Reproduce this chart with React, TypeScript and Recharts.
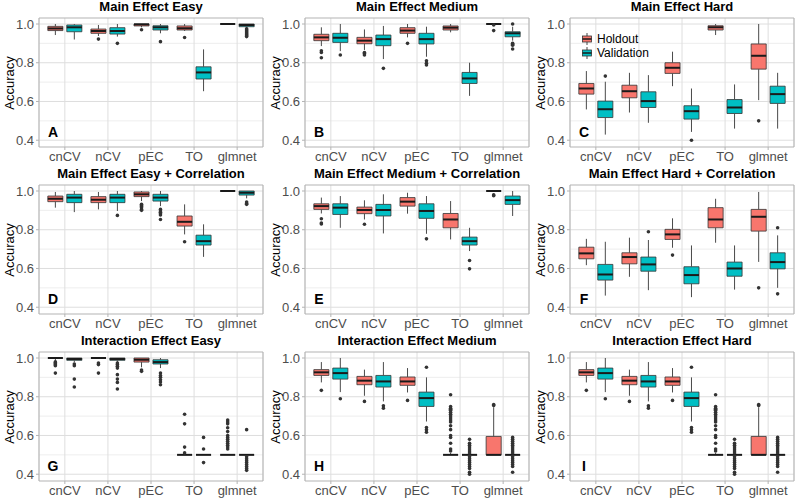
import React from 'react';
import {
  ComposedChart,
  XAxis,
  YAxis,
  CartesianGrid,
  ReferenceArea,
  ReferenceLine,
  Scatter,
} from 'recharts';

// ---------- data ----------
const methods = ['cnCV', 'nCV', 'pEC', 'TO', 'glmnet'];
const groupNames = ['Holdout', 'Validation'];
const groupColors = ['#F8766D', '#00BFC4'];
const yTicks = [0.4, 0.6, 0.8, 1.0];
const yMinor = [0.5, 0.7, 0.9];

// each stat row: [lower whisker, Q1, median, Q3, upper whisker], one row per method
// Main Effect Easy
const mainEasyHold = [
  [0.943, 0.966, 0.977, 0.988, 1.0],
  [0.938, 0.952, 0.964, 0.974, 0.995],
  [0.983, 0.99, 0.998, 1.0, 1.0],
  [0.964, 0.969, 0.978, 0.99, 1.0],
  [1.0, 1.0, 1.0, 1.0, 1.0],
];
const mainEasyHoldOut = [[], [0.922], [0.97], [0.93], []];
const mainEasyVal = [
  [0.92, 0.96, 0.983, 0.995, 1.0],
  [0.935, 0.948, 0.964, 0.981, 1.0],
  [0.952, 0.969, 0.983, 0.991, 1.0],
  [0.653, 0.716, 0.75, 0.779, 0.869],
  [0.978, 0.986, 0.995, 1.0, 1.0],
];
const mainEasyValOut = [[], [0.9], [0.909], [], [0.975, 0.97, 0.965, 0.96, 0.955, 0.95, 0.945, 0.94, 0.935]];

// Main Effect Medium
const mainMedHold = [
  [0.886, 0.914, 0.931, 0.947, 0.983],
  [0.866, 0.898, 0.914, 0.931, 0.972],
  [0.931, 0.952, 0.966, 0.981, 1.0],
  [0.957, 0.969, 0.981, 0.99, 1.0],
  [1.0, 1.0, 1.0, 1.0, 1.0],
];
const mainMedHoldOut = [[0.862, 0.853, 0.826], [0.853, 0.848, 0.84], [0.9], [], [0.995, 0.966]];
const mainMedVal = [
  [0.86, 0.905, 0.929, 0.952, 1.0],
  [0.819, 0.888, 0.922, 0.943, 0.99],
  [0.831, 0.897, 0.922, 0.952, 0.986],
  [0.629, 0.693, 0.719, 0.75, 0.8],
  [0.914, 0.934, 0.952, 0.96, 0.986],
];
const mainMedValOut = [[0.84], [0.771], [0.81, 0.797, 0.788], [], [1.0, 0.9, 0.895, 0.89, 0.871]];

// Main Effect Hard
const mainHardHold = [
  [0.559, 0.638, 0.667, 0.693, 0.757],
  [0.543, 0.619, 0.653, 0.684, 0.748],
  [0.679, 0.745, 0.774, 0.8, 0.857],
  [0.943, 0.969, 0.983, 0.991, 1.0],
  [0.607, 0.767, 0.836, 0.897, 1.0],
];
const mainHardHoldOut = [[], [], [], [], [0.5]];
const mainHardVal = [
  [0.429, 0.517, 0.56, 0.602, 0.702],
  [0.49, 0.569, 0.602, 0.65, 0.736],
  [0.443, 0.509, 0.55, 0.578, 0.667],
  [0.46, 0.538, 0.569, 0.61, 0.688],
  [0.46, 0.59, 0.638, 0.679, 0.748],
];
const mainHardValOut = [[0.731], [], [0.4], [], []];

// Main Effect Easy + Correlation
const corEasyHold = [
  [0.914, 0.945, 0.96, 0.974, 0.995],
  [0.905, 0.94, 0.955, 0.971, 0.995],
  [0.948, 0.971, 0.983, 0.995, 1.0],
  [0.776, 0.819, 0.841, 0.871, 0.931],
  [1.0, 1.0, 1.0, 1.0, 1.0],
];
const corEasyHoldOut = [[], [], [0.931, 0.925, 0.92, 0.914, 0.905, 0.9], [0.738], []];
const corEasyVal = [
  [0.891, 0.94, 0.966, 0.983, 1.0],
  [0.897, 0.94, 0.966, 0.983, 1.0],
  [0.922, 0.948, 0.966, 0.983, 1.0],
  [0.66, 0.721, 0.741, 0.772, 0.828],
  [0.962, 0.979, 0.991, 1.0, 1.0],
];
const corEasyValOut = [[], [0.874], [0.905, 0.897, 0.89, 0.883, 0.876, 0.853], [], [0.943, 0.935, 0.931]];

// Main Effect Medium + Correlation
const corMedHold = [
  [0.884, 0.905, 0.922, 0.934, 0.966],
  [0.853, 0.883, 0.902, 0.917, 0.952],
  [0.883, 0.922, 0.945, 0.966, 0.991],
  [0.75, 0.81, 0.853, 0.884, 0.948],
  [0.995, 1.0, 1.0, 1.0, 1.0],
];
const corMedHoldOut = [[0.857, 0.835, 0.83], [0.828], [], [], [0.98, 0.976]];
const corMedVal = [
  [0.81, 0.879, 0.914, 0.934, 0.974],
  [0.781, 0.871, 0.902, 0.931, 0.983],
  [0.779, 0.859, 0.897, 0.934, 0.974],
  [0.69, 0.721, 0.741, 0.762, 0.81],
  [0.871, 0.931, 0.953, 0.974, 1.0],
];
const corMedValOut = [[], [], [0.753], [0.641, 0.598], []];

// Main Effect Hard + Correlation
const corHardHold = [
  [0.617, 0.65, 0.678, 0.71, 0.753],
  [0.557, 0.624, 0.659, 0.681, 0.759],
  [0.707, 0.75, 0.776, 0.802, 0.859],
  [0.733, 0.81, 0.853, 0.914, 0.96],
  [0.634, 0.793, 0.867, 0.905, 0.995],
];
const corHardHoldOut = [[], [], [0.669], [], [0.5]];
const corHardVal = [
  [0.46, 0.54, 0.569, 0.621, 0.738],
  [0.488, 0.586, 0.621, 0.659, 0.747],
  [0.452, 0.521, 0.566, 0.609, 0.719],
  [0.491, 0.56, 0.6, 0.633, 0.719],
  [0.5, 0.598, 0.633, 0.681, 0.771],
];
const corHardValOut = [[], [0.79], [], [], [0.81, 0.469]];

// Interaction Effect Easy
const intEasyHold = [
  [0.985, 1.0, 1.0, 1.0, 1.0],
  [1.0, 1.0, 1.0, 1.0, 1.0],
  [0.952, 0.979, 0.991, 1.0, 1.0],
  [0.5, 0.5, 0.5, 0.5, 0.5],
  [0.5, 0.5, 0.5, 0.5, 0.5],
];
const intEasyHoldOut = [
  [0.98, 0.975, 0.97, 0.965, 0.96, 0.922],
  [0.974, 0.966, 0.922],
  [0.938, 0.931],
  [0.71, 0.66, 0.54, 0.51],
  [0.68, 0.67, 0.66, 0.64, 0.62, 0.6, 0.59, 0.58, 0.57, 0.56, 0.55, 0.54, 0.53],
];
const intEasyVal = [
  [0.978, 0.988, 0.995, 1.0, 1.0],
  [0.978, 0.988, 0.995, 1.0, 1.0],
  [0.948, 0.969, 0.979, 0.991, 1.0],
  [0.5, 0.5, 0.5, 0.5, 0.5],
  [0.5, 0.5, 0.5, 0.5, 0.5],
];
const intEasyValOut = [
  [0.969, 0.96, 0.891, 0.85],
  [0.974, 0.966, 0.957, 0.948, 0.914, 0.891, 0.874, 0.84],
  [0.922, 0.91, 0.9, 0.888, 0.876, 0.862],
  [0.59, 0.53, 0.46],
  [0.63, 0.49, 0.48, 0.47, 0.46, 0.45, 0.44, 0.43, 0.42],
];

// Interaction Effect Medium
const intMedHold = [
  [0.874, 0.91, 0.926, 0.94, 0.979],
  [0.805, 0.862, 0.883, 0.905, 0.94],
  [0.822, 0.859, 0.879, 0.902, 0.948],
  [0.5, 0.5, 0.5, 0.5, 0.51],
  [0.5, 0.5, 0.5, 0.595, 0.746],
];
const intMedHoldOut = [
  [0.833],
  [0.776],
  [0.781],
  [0.81, 0.75, 0.74, 0.735, 0.73, 0.72, 0.71, 0.7, 0.69, 0.68, 0.67, 0.65, 0.63, 0.6, 0.59, 0.56, 0.53, 0.52],
  [0.76, 0.755],
];
const intMedVal = [
  [0.824, 0.891, 0.922, 0.948, 1.0],
  [0.776, 0.85, 0.879, 0.91, 0.979],
  [0.672, 0.75, 0.793, 0.824, 0.9],
  [0.5, 0.5, 0.5, 0.5, 0.5],
  [0.5, 0.5, 0.5, 0.5, 0.5],
];
const intMedValOut = [
  [0.79],
  [0.753, 0.741],
  [0.952, 0.641, 0.629, 0.617],
  [0.58, 0.56, 0.55, 0.54, 0.53, 0.52, 0.51, 0.49, 0.48, 0.47, 0.46, 0.45, 0.44, 0.43, 0.41, 0.4],
  [0.59, 0.58, 0.57, 0.56, 0.55, 0.54, 0.53, 0.52, 0.51, 0.49, 0.48, 0.47, 0.46, 0.45, 0.44, 0.41],
];

// Interaction Effect Hard (same picture as Medium in the reference)
const intHardHold = intMedHold;
const intHardHoldOut = intMedHoldOut;
const intHardVal = intMedVal;
const intHardValOut = intMedValOut;

const panelTitles = [
  'Main Effect Easy', 'Main Effect Medium', 'Main Effect Hard',
  'Main Effect Easy + Correlation', 'Main Effect Medium + Correlation', 'Main Effect Hard + Correlation',
  'Interaction Effect Easy', 'Interaction Effect Medium', 'Interaction Effect Hard',
];
const panelLetters = ['A', 'B', 'C', 'D', 'E', 'F', 'G', 'H', 'I'];

const panels = [
  { hold: mainEasyHold, holdOut: mainEasyHoldOut, val: mainEasyVal, valOut: mainEasyValOut },
  { hold: mainMedHold, holdOut: mainMedHoldOut, val: mainMedVal, valOut: mainMedValOut },
  { hold: mainHardHold, holdOut: mainHardHoldOut, val: mainHardVal, valOut: mainHardValOut },
  { hold: corEasyHold, holdOut: corEasyHoldOut, val: corEasyVal, valOut: corEasyValOut },
  { hold: corMedHold, holdOut: corMedHoldOut, val: corMedVal, valOut: corMedValOut },
  { hold: corHardHold, holdOut: corHardHoldOut, val: corHardVal, valOut: corHardValOut },
  { hold: intEasyHold, holdOut: intEasyHoldOut, val: intEasyVal, valOut: intEasyValOut },
  { hold: intMedHold, holdOut: intMedHoldOut, val: intMedVal, valOut: intMedValOut },
  { hold: intHardHold, holdOut: intHardHoldOut, val: intHardVal, valOut: intHardValOut },
];

// ---------- layout / style ----------
const FONT = '"Liberation Sans", Arial, Helvetica, sans-serif';
const PANEL_W = 266;
const PANEL_H = 166;
const COL_LEFT = [0, 266, 531];
const ROW_TOP = [-1, 166, 333];
const Y_AXIS_W = 39;
const MARGIN = { top: 19, right: 3, bottom: 0, left: 0 };
const X_AXIS_H = 18;
const Y_DOMAIN: [number, number] = [0.365, 1.031];
const X_DOMAIN: [number, number] = [0.4, 5.6];
const DODGE = 0.22;
const BOX_W = 0.35;
const LINE_COL = '#333333';
const WHISKER_COL = '#4a4a4a';

function boxplotElements(stats: number[][], color: string, offset: number, key: string) {
  const whiskers: any[] = [];
  const boxes: any[] = [];
  const medians: any[] = [];
  stats.forEach(([lo, q1, med, q3, hi], i) => {
    const c = i + 1 + offset;
    const x1 = c - BOX_W / 2;
    const x2 = c + BOX_W / 2;
    if (hi > q3) {
      whiskers.push(
        <ReferenceLine key={`${key}-wu-${i}`} segment={[{ x: c, y: q3 }, { x: c, y: hi }]}
          stroke={WHISKER_COL} strokeWidth={1} ifOverflow="visible" />
      );
    }
    if (q1 > lo) {
      whiskers.push(
        <ReferenceLine key={`${key}-wl-${i}`} segment={[{ x: c, y: lo }, { x: c, y: q1 }]}
          stroke={WHISKER_COL} strokeWidth={1} ifOverflow="visible" />
      );
    }
    if (q3 > q1) {
      boxes.push(
        <ReferenceArea key={`${key}-b-${i}`} x1={x1} x2={x2} y1={q1} y2={q3}
          fill={color} fillOpacity={1} stroke={LINE_COL} strokeWidth={0.8} ifOverflow="visible" />
      );
    }
    medians.push(
      <ReferenceLine key={`${key}-m-${i}`} segment={[{ x: x1, y: med }, { x: x2, y: med }]}
        stroke="#1a1a1a" strokeWidth={2} ifOverflow="visible" />
    );
  });
  return [...whiskers, ...boxes, ...medians];
}

const dotShape = (props: any) => <circle cx={props.cx} cy={props.cy} r={1.8} fill={LINE_COL} />;

function Panel({ idx }: { idx: number }) {
  const p = panels[idx];
  const col = idx % 3;
  const row = Math.floor(idx / 3);
  const series = [
    { stats: p.hold, out: p.holdOut, color: groupColors[0], offset: -DODGE },
    { stats: p.val, out: p.valOut, color: groupColors[1], offset: DODGE },
  ];
  const outliers = series.flatMap((s) =>
    s.out.flatMap((vals, i) => vals.map((v) => ({ x: i + 1 + s.offset, y: v })))
  );
  const plotLeft = Y_AXIS_W;
  const plotW = PANEL_W - Y_AXIS_W - MARGIN.right;
  const plotTop = MARGIN.top;
  const plotBottom = PANEL_H - X_AXIS_H;
  return (
    <div style={{ position: 'absolute', left: COL_LEFT[col], top: ROW_TOP[row], width: PANEL_W, height: PANEL_H }}>
      <div style={{
        position: 'absolute', left: plotLeft, width: plotW, top: 1, height: 14, lineHeight: '14px',
        textAlign: 'center', fontFamily: FONT, fontWeight: 'bold', fontSize: 13, color: '#000', whiteSpace: 'nowrap',
      }}>{panelTitles[idx]}</div>
      <ComposedChart width={PANEL_W} height={PANEL_H} margin={MARGIN}>
        <CartesianGrid stroke="#E3E3E3" strokeWidth={0.6} horizontalValues={yMinor} vertical={false} />
        <CartesianGrid stroke="#DEDEDE" strokeWidth={1} horizontalValues={yTicks} />
        <XAxis
          type="number" dataKey="x" domain={X_DOMAIN} ticks={[1, 2, 3, 4, 5]} interval={0}
          allowDataOverflow height={X_AXIS_H} tickSize={3} tickMargin={2}
          tickFormatter={(v: number) => methods[Math.round(v) - 1]}
          tick={{ fill: '#4D4D4D', fontSize: 13, fontFamily: FONT }}
          tickLine={{ stroke: '#B3B3B3' }} axisLine={false}
        />
        <YAxis
          type="number" dataKey="y" domain={Y_DOMAIN} ticks={yTicks} allowDataOverflow width={Y_AXIS_W}
          tickSize={3} tickMargin={2} tickFormatter={(v: number) => v.toFixed(1)}
          tick={{ fill: '#4D4D4D', fontSize: 13, fontFamily: FONT }}
          tickLine={{ stroke: '#B3B3B3' }} axisLine={false}
        />
        {boxplotElements(series[0].stats, series[0].color, series[0].offset, 'h')}
        {boxplotElements(series[1].stats, series[1].color, series[1].offset, 'v')}
        <ReferenceArea x1={X_DOMAIN[0]} x2={X_DOMAIN[1]} y1={Y_DOMAIN[0]} y2={Y_DOMAIN[1]}
          fill="none" stroke="#B3B3B3" strokeWidth={1} ifOverflow="visible" />
        <Scatter data={outliers} dataKey="y" shape={dotShape} isAnimationActive={false} />
      </ComposedChart>
      <div style={{
        position: 'absolute', left: 9, top: (plotTop + plotBottom) / 2,
        transform: 'translate(-50%, -50%) rotate(-90deg)', fontFamily: FONT, fontSize: 13,
        lineHeight: '13px', color: '#000', whiteSpace: 'nowrap',
      }}>Accuracy</div>
      <div style={{
        position: 'absolute', left: plotLeft + 4, width: 20, top: 126, height: 14, lineHeight: '14px',
        textAlign: 'center', fontFamily: FONT, fontWeight: 'bold', fontSize: 14, color: '#000',
      }}>{panelLetters[idx]}</div>
      {idx === 2 && (
        <div style={{ position: 'absolute', left: 50, top: 33, fontFamily: FONT, fontSize: 12, color: '#000' }}>
          {groupNames.map((g, gi) => (
            <div key={g} style={{ display: 'flex', alignItems: 'center', height: 14, lineHeight: '14px' }}>
              <svg width={12} height={12} style={{ marginRight: 4 }}>
                <line x1={6} x2={6} y1={0} y2={12} stroke={WHISKER_COL} strokeWidth={1} />
                <rect x={1.5} y={3} width={9} height={6} fill={groupColors[gi]} stroke={LINE_COL} strokeWidth={0.8} />
                <line x1={1.5} x2={10.5} y1={6} y2={6} stroke="#1a1a1a" strokeWidth={1.5} />
              </svg>
              <span style={{ lineHeight: '14px' }}>{g}</span>
            </div>
          ))}
        </div>
      )}
    </div>
  );
}

export default function App() {
  return (
    <div style={{ position: 'absolute', left: 0, top: 0, width: 800, height: 499, background: '#fff', overflow: 'hidden' }}>
      {panels.map((_, i) => <Panel key={i} idx={i} />)}
    </div>
  );
}
